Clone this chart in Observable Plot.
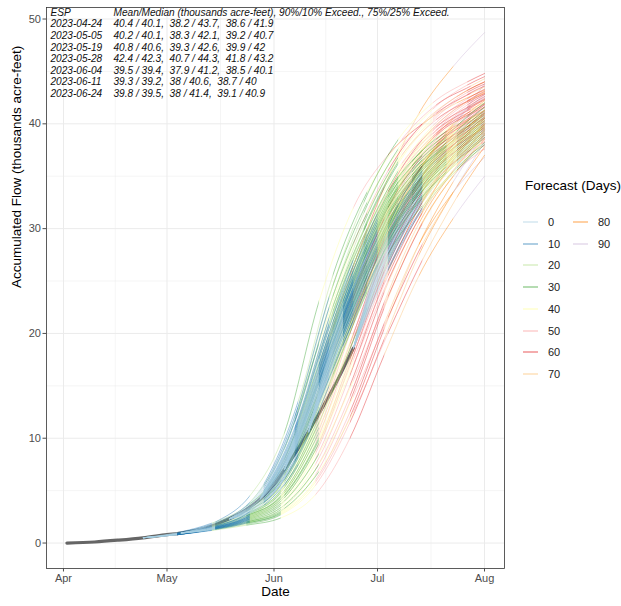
<!DOCTYPE html>
<html><head><meta charset="utf-8">
<script src="https://cdn.jsdelivr.net/npm/d3@7"></script>
<script src="https://cdn.jsdelivr.net/npm/@observablehq/plot@0.6"></script>
<style>
body{margin:0;background:#fff;}
#wrap{position:relative;width:621px;height:606px;font-family:"Liberation Sans",Arial,sans-serif;}
#wrap svg{position:absolute;left:0;top:0;}
</style></head><body><div id="wrap"></div>
<script>
// ---- data ----
const issueDates = ["2023-04-24","2023-05-05","2023-05-19","2023-05-28","2023-06-04","2023-06-11","2023-06-24"];
const meanMedian = ["40.4 / 40.1","40.2 / 40.1","40.8 / 40.6","42.4 / 42.3","39.5 / 39.4","39.3 / 39.2","39.8 / 39.5"];
const exceed90_10 = ["38.2 / 43.7","38.3 / 42.1","39.3 / 42.6","40.7 / 44.3","37.9 / 41.2","38 / 40.6","38 / 41.4"];
const exceed75_25 = ["38.6 / 41.9","39.2 / 40.7","39.9 / 42","41.8 / 43.2","38.5 / 40.1","38.7 / 40","39.1 / 40.9"];

const obsDates = ["2023-04-02","2023-04-10","2023-04-17","2023-04-24","2023-05-01","2023-05-05","2023-05-12","2023-05-19","2023-05-24","2023-05-28","2023-06-01","2023-06-04","2023-06-08","2023-06-11","2023-06-15","2023-06-19","2023-06-24"];
const obsValues = [0, 0.1, 0.28, 0.5, 0.8, 0.95, 1.4, 2.3, 3.2, 4.2, 5.6, 7.0, 9.0, 10.6, 12.9, 15.3, 18.6];

// each trace: values every 10 days of lead after its issue date, last value on Aug 1
const esp0424 = [
 [1.0,1.9,3.5,7.0,15.5,25.5,34.0,41.0,45.5,48.7],
 [0.9,1.6,2.7,4.8,11.0,20.5,29.0,35.5,40.0,42.8],
 [0.85,1.4,2.2,3.6,8.0,16.0,25.0,32.0,37.0,40.2],
 [0.8,1.3,1.9,2.9,6.0,12.5,21.0,28.5,33.5,36.8],
 [0.8,1.2,1.7,2.4,4.6,10.0,18.0,25.5,31.0,35.0],
 [0.9,1.7,3.0,5.5,12.5,22.5,31.0,37.0,40.5,42.5],
 [0.85,1.5,2.5,4.2,9.5,18.5,27.5,34.5,39.0,41.5],
 [0.8,1.3,2.0,3.2,7.0,14.0,23.0,30.5,35.5,38.6],
 [0.95,1.8,3.2,6.0,13.5,23.0,31.0,36.0,39.0,40.5],
 [0.8,1.35,2.1,3.4,7.5,15.0,24.0,31.0,36.5,39.8],
 [0.85,1.45,2.4,4.0,8.8,17.5,26.5,33.5,38.0,41.0],
 [0.8,1.25,1.8,2.7,5.5,11.5,19.5,27.5,33.5,38.2],
 [0.85,1.5,2.6,4.4,10.0,19.0,28.0,34.5,38.5,40.8],
 [0.8,1.3,2.0,3.0,6.5,13.5,22.5,30.0,35.0,38.0],
 [0.9,1.6,2.8,5.0,11.5,21.0,29.5,35.5,39.5,41.8],
 [0.8,1.25,1.9,2.8,5.8,12.0,20.5,28.5,34.5,39.0],
 [0.85,1.45,2.3,3.8,8.5,17.0,26.0,33.0,37.5,39.4],
 [0.9,1.55,2.6,4.5,10.5,20.0,29.0,35.5,39.8,43.8]
];
const esp0505 = [
 [1.8,3.6,8.0,17.0,26.0,33.5,38.5,41.5,43.0],
 [1.6,3.0,6.5,14.0,23.0,30.5,36.0,39.5,41.3],
 [1.5,2.6,5.3,11.5,20.0,28.0,34.0,38.0,40.5],
 [1.4,2.3,4.3,9.5,17.0,25.0,31.5,36.0,39.0],
 [1.35,2.1,3.6,7.5,14.0,21.5,28.5,34.0,37.8],
 [1.7,3.3,7.2,15.5,24.5,32.0,37.0,40.2,42.2],
 [1.5,2.7,5.8,12.5,21.5,29.5,35.0,38.5,40.2],
 [1.45,2.45,4.8,10.5,18.5,26.5,33.0,37.2,40.0],
 [1.9,3.9,9.0,19.0,28.5,35.5,40.0,42.6,44.0],
 [1.3,2.0,3.3,6.8,12.5,20.0,27.0,33.0,37.0],
 [1.55,2.8,6.0,13.0,22.0,29.0,34.5,38.0,39.6],
 [1.4,2.4,4.6,10.0,18.0,26.0,32.5,37.0,40.0],
 [2.0,4.5,10.5,23.0,32.0,37.0,40.0,42.0,43.2],
 [1.5,2.6,5.5,12.0,21.0,29.0,35.0,38.8,41.0],
 [1.4,2.3,4.5,9.8,17.5,25.5,32.0,36.5,39.4],
 [1.6,3.0,6.8,14.5,23.5,31.0,36.0,39.0,40.8],
 [1.45,2.5,5.0,11.0,19.5,27.5,33.5,37.5,39.8],
 [1.35,2.2,4.0,8.5,15.5,23.5,30.5,35.5,38.5]
];
const esp0519 = [
 [5.6,13.5,25.5,33.5,38.5,41.8,43.6,44.3],
 [5.2,12.5,23.5,31.5,37.0,40.4,42.3,42.9],
 [4.9,11.5,22.0,30.0,35.8,39.4,41.4,42.0],
 [4.6,10.6,20.5,28.5,34.6,38.5,40.6,41.3],
 [4.4,9.8,19.0,27.0,33.4,37.6,39.9,40.6],
 [4.1,9.0,17.5,25.5,32.2,36.6,39.1,39.8],
 [3.8,8.2,16.0,24.0,31.0,35.7,38.4,39.2],
 [3.6,7.5,14.5,22.5,29.5,34.6,37.6,38.6],
 [5.0,11.8,22.5,30.5,36.2,39.7,41.7,42.3],
 [4.7,10.9,21.0,29.0,35.0,38.9,41.0,41.6],
 [4.3,9.5,18.5,26.5,33.0,37.3,39.7,40.5],
 [4.0,8.6,16.8,24.8,31.6,36.2,38.8,39.6],
 [5.4,13.0,24.5,32.5,37.8,41.0,42.9,43.5],
 [4.8,11.2,21.5,29.5,35.4,39.1,41.2,41.9],
 [4.5,10.2,19.8,27.8,34.0,38.0,40.3,41.0],
 [4.2,9.2,18.0,26.0,32.6,37.0,39.5,40.3],
 [3.9,8.4,16.5,24.5,31.4,36.4,39.3,40.4],
 [4.6,10.4,20.2,28.2,34.3,38.2,40.5,41.2]
];
const esp0528 = [
 [12.0,23.5,32.5,38.5,42.0,44.0,44.8],
 [11.0,21.5,30.5,36.8,40.8,43.2,44.0],
 [10.2,20.0,29.0,35.5,39.8,42.4,43.3],
 [9.5,18.5,27.5,34.2,38.8,41.6,42.6],
 [9.0,17.5,26.2,33.0,37.8,40.8,41.9],
 [8.4,16.2,24.8,31.8,36.8,40.0,41.2],
 [7.8,15.0,23.5,30.5,35.8,39.3,40.6],
 [10.6,20.8,29.8,36.2,40.3,42.8,43.6],
 [9.8,19.2,28.2,34.8,39.3,42.0,42.9],
 [8.8,17.0,25.6,32.5,37.5,40.6,41.8],
 [11.5,22.5,31.5,37.6,41.4,43.7,44.5],
 [9.2,18.0,27.0,33.8,38.4,41.3,42.3],
 [10.0,19.5,28.5,35.0,39.5,42.2,43.1],
 [9.3,18.2,27.2,34.0,38.6,41.4,42.4],
 [8.6,16.6,25.2,32.2,37.2,40.4,41.6],
 [10.8,21.0,30.0,36.4,40.5,43.0,43.8],
 [9.6,18.8,27.8,34.5,39.0,41.8,42.8],
 [8.2,15.8,24.2,31.2,36.3,39.7,41.0]
];
const esp0604 = [
 [17.5,27.0,33.5,37.5,40.2,41.5],
 [16.8,26.0,32.5,36.6,39.4,40.8],
 [16.2,25.2,31.6,35.8,38.7,40.2],
 [15.6,24.4,30.8,35.0,38.0,39.6],
 [15.0,23.6,30.0,34.3,37.4,39.1],
 [14.5,22.8,29.2,33.6,36.8,38.6],
 [14.0,22.0,28.4,32.9,36.2,38.0],
 [13.5,21.2,27.6,32.2,35.6,37.6],
 [16.5,25.6,32.0,36.2,39.0,40.5],
 [15.9,24.8,31.2,35.4,38.3,39.9],
 [15.3,24.0,30.4,34.7,37.7,39.4],
 [14.8,23.2,29.6,34.0,37.1,38.9],
 [14.2,22.4,28.8,33.2,36.5,38.3],
 [17.0,26.5,33.0,37.0,39.8,41.2],
 [15.5,24.2,30.6,34.9,37.9,39.5],
 [16.0,25.0,31.4,35.6,38.5,40.0],
 [14.6,23.0,29.4,33.8,36.9,38.7],
 [15.2,23.8,30.2,34.5,37.6,39.2]
];
const esp0611 = [
 [22.5,31.0,36.0,39.0,40.8],
 [22.0,30.4,35.4,38.5,40.3],
 [21.5,29.8,34.9,38.0,39.9],
 [21.0,29.2,34.4,37.6,39.5],
 [20.6,28.7,33.9,37.2,39.1],
 [20.2,28.2,33.4,36.8,38.7],
 [19.8,27.7,32.9,36.4,38.3],
 [19.3,27.2,32.4,35.9,37.9],
 [18.8,26.6,31.8,35.4,37.6],
 [22.2,30.7,35.7,38.7,40.5],
 [21.7,30.0,35.1,38.2,40.0],
 [21.2,29.5,34.6,37.8,39.6],
 [20.8,29.0,34.1,37.4,39.3],
 [20.4,28.4,33.6,37.0,38.9],
 [20.0,28.0,33.2,36.6,38.5],
 [19.6,27.5,32.7,36.2,38.2],
 [23.0,31.5,36.4,39.3,41.0],
 [21.4,29.6,34.8,37.9,39.7]
];
const esp0624 = [
 [29.5,35.5,39.3,41.6],
 [29.0,35.0,38.8,41.1],
 [28.6,34.5,38.3,40.7],
 [28.2,34.1,37.9,40.3],
 [27.8,33.7,37.5,39.9],
 [27.4,33.3,37.1,39.5],
 [27.0,32.9,36.7,39.1],
 [26.6,32.5,36.3,38.7],
 [26.2,32.0,35.8,38.2],
 [29.2,35.2,39.0,41.3],
 [28.8,34.8,38.6,40.9],
 [28.4,34.3,38.1,40.5],
 [28.0,33.9,37.7,40.1],
 [27.6,33.5,37.3,39.7],
 [27.2,33.1,36.9,39.3],
 [26.8,32.7,36.5,38.9],
 [30.0,36.0,39.8,42.0],
 [26.0,31.8,35.6,38.0]
];
const ensembles = [esp0424, esp0505, esp0519, esp0528, esp0604, esp0611, esp0624];

const leadBins = [0,10,20,30,40,50,60,70,80,90];
const binColors = ["#a6cee3","#1f78b4","#b2df8a","#33a02c","#ffff99","#fb9a99","#e31a1c","#fdbf6f","#ff7f00","#cab2d6"];
const yTicks = [0,10,20,30,40,50];
const monthTicks = ["2023-04-01","2023-05-01","2023-06-01","2023-07-01","2023-08-01"];

// ---- build tables ----
const DAY = 864e5;
const parse = s => new Date(s + "T00:00:00Z");
const endDate = parse("2023-08-01");
const obs = obsDates.map((d, i) => ({date: parse(d), value: obsValues[i]}));
const tracesByIssue = ensembles.map((set, k) => {
  const t0 = parse(issueDates[k]);
  const v0 = obsValues[obsDates.indexOf(issueDates[k])];
  const out = [];
  set.forEach((trace, j) => {
    const id = k * 100 + j;
    out.push({id, date: t0, value: v0});
    trace.forEach((v, i) => {
      const date = i === trace.length - 1 ? endDate : new Date(+t0 + (i + 1) * 10 * DAY);
      out.push({id, date, value: v});
    });
  });
  return out;
});

const mTicks = monthTicks.map(parse);
const minorX = mTicks.slice(0, -1).map((d, i) => new Date((+d + +mTicks[i + 1]) / 2));
const minorY = yTicks.slice(0, -1).map((v, i) => (v + yTicks[i + 1]) / 2);

// one line mark per (issue, lead bin); each is clipped to its lead window after rendering
const segMarks = [], segWindows = [];
issueDates.forEach((d, k) => {
  const t0 = +parse(d);
  leadBins.forEach((b, bi) => {
    const start = t0 + b * DAY;
    if (start >= +endDate) return;
    segWindows.push([start, Math.min(t0 + (b + 10) * DAY, +endDate + DAY)]);
    segMarks.push(Plot.line(tracesByIssue[k], {x: "date", y: "value", z: "id", stroke: binColors[bi],
      strokeWidth: 0.7, strokeOpacity: 0.6, curve: "monotone-x"}));
  });
});

const colA = ["ESP", ...issueDates].join("\n");
const colB = ["Mean/Median (thousands acre-feet), 90%/10% Exceed., 75%/25% Exceed.",
  ...issueDates.map((d, i) => `${meanMedian[i]},\u00a0\u00a0${exceed90_10[i]},\u00a0\u00a0${exceed75_25[i]}`)].join("\n");

const font = '"Liberation Sans", Arial, sans-serif';
const W = 621, H = 606, ML = 46, MR = 117, MT = 7, MB = 38;
const xDomain = [new Date(Date.UTC(2023,2,27,2)), new Date(Date.UTC(2023,7,6,19))];
const chart = Plot.plot({
  width: W, height: H,
  marginLeft: ML, marginRight: MR, marginTop: MT, marginBottom: MB,
  style: {fontFamily: font, background: "transparent"},
  x: {type: "utc", domain: xDomain},
  y: {domain: [-2.43, 51.1]},
  marks: [
    Plot.gridX(minorX, {stroke: "#ebebeb", strokeOpacity: 1, strokeWidth: 0.5}),
    Plot.gridY(minorY, {stroke: "#ebebeb", strokeOpacity: 1, strokeWidth: 0.5}),
    Plot.gridX(mTicks, {stroke: "#ebebeb", strokeOpacity: 1, strokeWidth: 1}),
    Plot.gridY(yTicks, {stroke: "#ebebeb", strokeOpacity: 1, strokeWidth: 1}),
    Plot.line(obs, {x: "date", y: "value", stroke: "#555555", strokeWidth: 3.2, strokeOpacity: 0.9, curve: "monotone-x"}),
    ...segMarks,
    Plot.frame({stroke: "#333333", strokeWidth: 0.8}),
    Plot.axisX(mTicks, {tickFormat: d3.utcFormat("%b"), tickSize: 3.5, tickPadding: 2, fontSize: 11, color: "#4d4d4d", label: null}),
    Plot.axisY(yTicks, {tickSize: 3.5, tickPadding: 2, fontSize: 11, color: "#4d4d4d", label: null}),
    Plot.text([colA], {frameAnchor: "top-left", dx: 4, dy: 0, text: d => d, fontSize: 10.1, fontStyle: "italic", lineHeight: 1.15, lineAnchor: "top", fill: "#111"}),
    Plot.text([colB], {frameAnchor: "top-left", dx: 67, dy: 0, text: d => d, fontSize: 10.1, fontStyle: "italic", lineHeight: 1.15, lineAnchor: "top", fill: "#111"}),
    Plot.text(["Date"], {frameAnchor: "bottom", dy: 27, text: d => d, fontSize: 13.5, fill: "#000"}),
    Plot.text(["Accumulated Flow (thousands acre-feet)"], {frameAnchor: "left", dx: -30, rotate: -90, text: d => d, fontSize: 13.5, fill: "#000"})
  ]
});
const wrap = document.getElementById("wrap");
wrap.appendChild(chart);

// clip each lead-bin mark to its window, using the chart's x scale
let xs;
try { xs = chart.scale("x"); } catch (e) { xs = null; }
const xpix = t => {
  let v = xs && xs.apply ? xs.apply(new Date(t)) : NaN;
  if (!isFinite(v)) v = ML + (t - +xDomain[0]) / (+xDomain[1] - +xDomain[0]) * (W - ML - MR);
  return v;
};
const svgNS = "http://www.w3.org/2000/svg";
const defs = document.createElementNS(svgNS, "defs");
chart.insertBefore(defs, chart.firstChild);
const lineGroups = Array.from(chart.querySelectorAll('g[aria-label="line"]')).slice(1); // first is observed
lineGroups.forEach((g, i) => {
  if (!segWindows[i]) return;
  const [a, b] = segWindows[i];
  const cp = document.createElementNS(svgNS, "clipPath");
  cp.setAttribute("id", "segclip" + i);
  const r = document.createElementNS(svgNS, "rect");
  const x0 = xpix(a), x1 = xpix(b);
  r.setAttribute("x", x0); r.setAttribute("width", Math.max(0, x1 - x0));
  r.setAttribute("y", 0); r.setAttribute("height", H);
  cp.appendChild(r); defs.appendChild(cp);
  g.setAttribute("clip-path", `url(#segclip${i})`);
});

// legend
const lg = d3.select(wrap).append("svg").attr("width", W).attr("height", H)
  .style("pointer-events", "none").attr("font-family", font);
lg.append("text").attr("x", 525).attr("y", 190).attr("font-size", 13.5).text("Forecast (Days)");
leadBins.forEach((b, i) => {
  const col = i < 8 ? 0 : 1, row = i < 8 ? i : i - 8;
  const x = 523 + col * 50, y = Math.round(222 + row * 21.7);
  lg.append("line").attr("x1", x).attr("x2", x + 15).attr("y1", y).attr("y2", y)
    .attr("stroke", binColors[i]).attr("stroke-width", 1.2).attr("stroke-opacity", 0.6);
  lg.append("text").attr("x", x + 25).attr("y", y).attr("dy", "0.35em").attr("font-size", 11).attr("fill", "#222").text(b);
});
</script></body></html>
